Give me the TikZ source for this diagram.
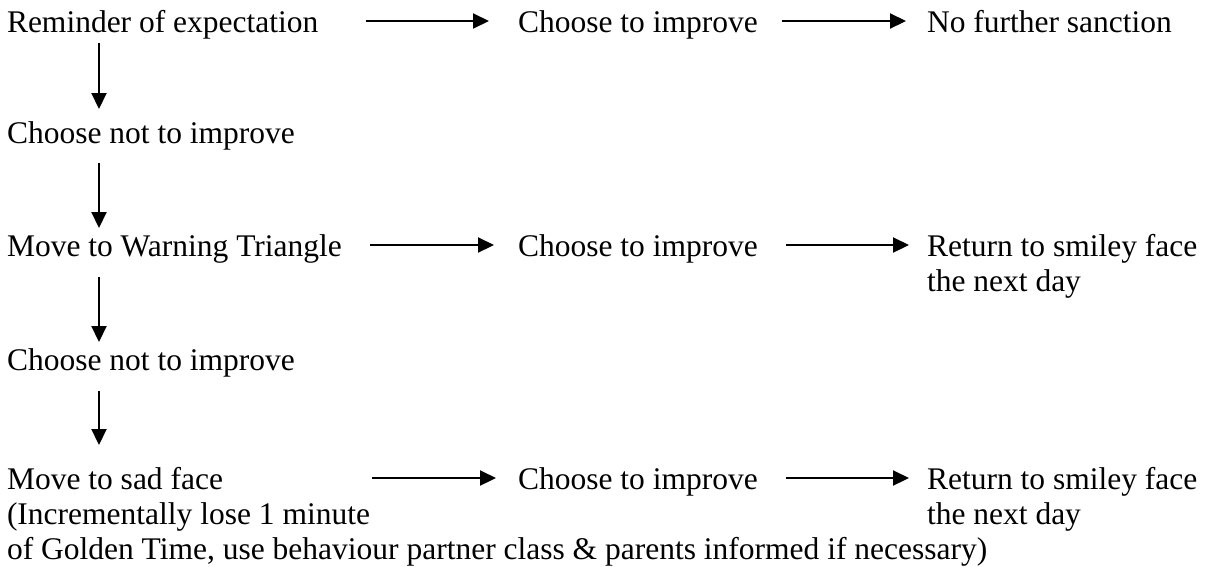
\documentclass[tikz,border=0pt]{standalone}
\usepackage{fontspec}
\setmainfont{Liberation Serif}
\usetikzlibrary{arrows.meta}
\newcommand\stacklines[1]{\vtop{\halign{##\hfil\cr#1\crcr}}}
\begin{document}
\begin{tikzpicture}[x=1pt,y=-1pt,
  txt/.style={anchor=base west,inner sep=0pt,outer sep=0pt,font=\fontsize{31.5pt}{35pt}\selectfont},
  arr/.style={line width=2.1pt,-{Triangle[length=16pt,width=15pt]}}]
\useasboundingbox (0,0) rectangle (1209,566);
% left column
\node[txt] (a)  at (7,32)  {Reminder of expectation};
\node[txt] (n1) at (7,143) {Choose not to improve};
\node[txt] (w)  at (7,256) {Move to Warning Triangle};
\node[txt] (n2) at (7,370) {Choose not to improve};
\node[txt] (s)  at (7,489) {\stacklines{Move to sad face\cr(Incrementally lose 1 minute\cr of Golden Time, use behaviour partner class \& parents informed if necessary)}};
% middle column
\node[txt] (b1) at (518,32)  {Choose to improve};
\node[txt] (b2) at (518,256) {Choose to improve};
\node[txt] (b3) at (518,489) {Choose to improve};
% right column
\node[txt] (c1) at (927,32)  {No further sanction};
\node[txt] (c2) at (927,256) {\stacklines{Return to smiley face\cr the next day}};
\node[txt] (c3) at (927,489) {\stacklines{Return to smiley face\cr the next day}};
% vertical arrows
\draw[arr] ([shift={(92pt,-11pt)}]a.base west) -- ([shift={(92pt,34pt)}]n1.base west);
\draw[arr] ([shift={(92pt,-20pt)}]n1.base west) -- ([shift={(92pt,28pt)}]w.base west);
\draw[arr] ([shift={(92pt,-21pt)}]w.base west) -- ([shift={(92pt,28pt)}]n2.base west);
\draw[arr] ([shift={(92pt,-21pt)}]n2.base west) -- ([shift={(92pt,44pt)}]s.base west);
% horizontal arrows
\draw[arr] ([shift={(-152pt,11pt)}]b1.base west) -- ([shift={(-29pt,11pt)}]b1.base west);
\draw[arr] ([shift={(-145pt,11pt)}]c1.base west) -- ([shift={(-21pt,11pt)}]c1.base west);
\draw[arr] ([shift={(-148pt,11pt)}]b2.base west) -- ([shift={(-24pt,11pt)}]b2.base west);
\draw[arr] ([shift={(-141pt,11pt)}]c2.base west) -- ([shift={(-18pt,11pt)}]c2.base west);
\draw[arr] ([shift={(-146pt,11pt)}]b3.base west) -- ([shift={(-22pt,11pt)}]b3.base west);
\draw[arr] ([shift={(-141pt,11pt)}]c3.base west) -- ([shift={(-18pt,11pt)}]c3.base west);
\end{tikzpicture}
\end{document}
